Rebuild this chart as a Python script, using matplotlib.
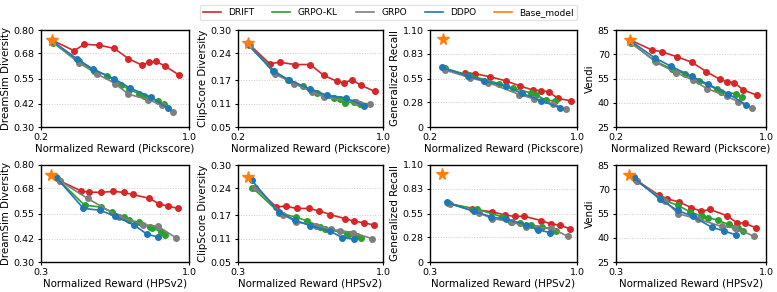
import numpy as np
import matplotlib
matplotlib.use("Agg")
from matplotlib import pyplot as plt
from matplotlib.lines import Line2D

methods = ["DRIFT", "GRPO-KL", "GRPO", "DDPO"]
colors = {"DRIFT": "tab:red", "GRPO-KL": "tab:green", "GRPO": "tab:gray", "DDPO": "tab:blue"}

metrics = ["DreamSim Diversity", "ClipScore Diversity", "Generalized Recall", "Vendi"]
rewards = ["Pickscore", "HPSv2"]

y_ticks = {
    "DreamSim Diversity": [0.30, 0.42, 0.55, 0.68, 0.80],
    "ClipScore Diversity": [0.05, 0.11, 0.17, 0.24, 0.30],
    "Generalized Recall": [0.0, 0.28, 0.55, 0.83, 1.10],
    "Vendi": [25, 40, 55, 70, 85],
}
y_ticklabels = {
    "DreamSim Diversity": ["0.30", "0.42", "0.55", "0.68", "0.80"],
    "ClipScore Diversity": ["0.05", "0.11", "0.17", "0.24", "0.30"],
    "Generalized Recall": ["0", "0.28", "0.55", "0.83", "1.10"],
    "Vendi": ["25", "40", "55", "70", "85"],
}
x_limits = {"Pickscore": (0.2, 1.0), "HPSv2": (0.3, 1.0)}

# base model (star)
base = {
    ("Pickscore", "DreamSim Diversity"): (0.259, 0.748),
    ("Pickscore", "ClipScore Diversity"): (0.253, 0.267),
    ("Pickscore", "Generalized Recall"): (0.269, 0.994),
    ("Pickscore", "Vendi"): (0.273, 79.0),
    ("HPSv2", "DreamSim Diversity"): (0.349, 0.748),
    ("HPSv2", "ClipScore Diversity"): (0.347, 0.268),
    ("HPSv2", "Generalized Recall"): (0.359, 1.001),
    ("HPSv2", "Vendi"): (0.362, 78.8),
}

# ---- Pickscore row ----
ps_dream_x = {
    "DRIFT": [0.259, 0.379, 0.433, 0.514, 0.596, 0.672, 0.745, 0.785, 0.822, 0.871, 0.944],
    "GRPO-KL": [0.263, 0.403, 0.487, 0.559, 0.630, 0.677, 0.731, 0.756, 0.835, 0.864],
    "GRPO": [0.263, 0.404, 0.505, 0.602, 0.672, 0.781, 0.853, 0.916],
    "DDPO": [0.259, 0.397, 0.482, 0.596, 0.683, 0.792, 0.887],
}
ps_dream_y = {
    "DRIFT": [0.748, 0.693, 0.726, 0.722, 0.705, 0.653, 0.619, 0.634, 0.638, 0.614, 0.569],
    "GRPO-KL": [0.735, 0.640, 0.591, 0.564, 0.519, 0.493, 0.472, 0.460, 0.433, 0.421],
    "GRPO": [0.738, 0.631, 0.572, 0.524, 0.469, 0.441, 0.412, 0.379],
    "DDPO": [0.745, 0.650, 0.598, 0.548, 0.500, 0.455, 0.397],
}
ps_clip_x = {
    "DRIFT": [0.253, 0.375, 0.430, 0.513, 0.599, 0.673, 0.746, 0.783, 0.829, 0.880, 0.954],
    "GRPO-KL": [0.260, 0.399, 0.476, 0.559, 0.636, 0.731, 0.761, 0.788, 0.842, 0.875],
    "GRPO": [0.264, 0.406, 0.509, 0.606, 0.676, 0.853, 0.926],
    "DDPO": [0.253, 0.395, 0.480, 0.595, 0.689, 0.794, 0.897],
}
ps_clip_y = {
    "DRIFT": [0.267, 0.213, 0.217, 0.211, 0.211, 0.183, 0.168, 0.163, 0.172, 0.157, 0.142],
    "GRPO-KL": [0.261, 0.194, 0.172, 0.155, 0.138, 0.126, 0.121, 0.112, 0.114, 0.108],
    "GRPO": [0.261, 0.186, 0.162, 0.141, 0.127, 0.114, 0.109],
    "DDPO": [0.263, 0.194, 0.171, 0.149, 0.132, 0.125, 0.105],
}
ps_recall_x = {
    "DRIFT": [0.388, 0.447, 0.529, 0.611, 0.688, 0.763, 0.806, 0.848, 0.894, 0.967],
    "GRPO-KL": [0.283, 0.410, 0.575, 0.650, 0.749, 0.776, 0.831, 0.882],
    "GRPO": [0.283, 0.416, 0.517, 0.687, 0.767, 0.868, 0.940],
    "DDPO": [0.264, 0.406, 0.492, 0.611, 0.700, 0.806, 0.905],
}
ps_recall_y = {
    "DRIFT": [0.614, 0.603, 0.569, 0.524, 0.467, 0.417, 0.413, 0.398, 0.326, 0.296],
    "GRPO-KL": [0.664, 0.588, 0.493, 0.440, 0.387, 0.368, 0.303, 0.296],
    "GRPO": [0.645, 0.561, 0.504, 0.368, 0.319, 0.262, 0.201],
    "DDPO": [0.675, 0.580, 0.524, 0.463, 0.383, 0.296, 0.220],
}
ps_vendi_x = {
    "DRIFT": [0.273, 0.392, 0.445, 0.525, 0.604, 0.681, 0.752, 0.792, 0.830, 0.878, 0.950],
    "GRPO-KL": [0.281, 0.409, 0.498, 0.569, 0.640, 0.737, 0.760, 0.842, 0.870],
    "GRPO": [0.281, 0.415, 0.519, 0.613, 0.684, 0.791, 0.853, 0.924],
    "DDPO": [0.276, 0.406, 0.491, 0.603, 0.693, 0.798, 0.892],
}
ps_vendi_y = {
    "DRIFT": [79.0, 72.6, 71.6, 68.4, 65.1, 59.3, 54.6, 53.1, 52.5, 48.0, 44.7],
    "GRPO-KL": [76.8, 65.8, 60.8, 57.7, 53.6, 48.4, 46.7, 45.5, 43.6],
    "GRPO": [77.2, 64.9, 58.7, 53.9, 48.8, 44.0, 40.5, 37.0],
    "DDPO": [78.4, 67.8, 62.7, 56.4, 51.3, 45.5, 38.9],
}

# ---- HPSv2 row ----
hp_dream_x = {
    "DRIFT": [0.388, 0.490, 0.529, 0.583, 0.642, 0.691, 0.733, 0.813, 0.857, 0.900, 0.950],
    "GRPO-KL": [0.375, 0.506, 0.583, 0.634, 0.694, 0.718, 0.765, 0.815, 0.827, 0.868, 0.887],
    "GRPO": [0.388, 0.520, 0.670, 0.783, 0.854, 0.940],
    "DDPO": [0.372, 0.501, 0.579, 0.650, 0.741, 0.799, 0.854],
}
hp_dream_y = {
    "DRIFT": [0.719, 0.666, 0.660, 0.659, 0.664, 0.659, 0.648, 0.628, 0.600, 0.588, 0.576],
    "GRPO-KL": [0.731, 0.593, 0.583, 0.559, 0.531, 0.516, 0.504, 0.481, 0.476, 0.455, 0.441],
    "GRPO": [0.719, 0.628, 0.533, 0.493, 0.483, 0.424],
    "DDPO": [0.736, 0.576, 0.567, 0.536, 0.490, 0.445, 0.428],
}
hp_clip_x = {
    "DRIFT": [0.384, 0.485, 0.530, 0.583, 0.641, 0.691, 0.746, 0.815, 0.862, 0.910, 0.958],
    "GRPO-KL": [0.369, 0.500, 0.582, 0.633, 0.698, 0.718, 0.826, 0.837, 0.874, 0.894],
    "GRPO": [0.384, 0.517, 0.582, 0.675, 0.749, 0.791, 0.855, 0.947],
    "DDPO": [0.366, 0.496, 0.577, 0.646, 0.746, 0.804, 0.858],
}
hp_clip_y = {
    "DRIFT": [0.242, 0.192, 0.194, 0.188, 0.188, 0.182, 0.172, 0.162, 0.155, 0.151, 0.145],
    "GRPO-KL": [0.242, 0.177, 0.165, 0.156, 0.141, 0.136, 0.123, 0.121, 0.116, 0.113],
    "GRPO": [0.242, 0.172, 0.153, 0.144, 0.134, 0.131, 0.126, 0.110],
    "DDPO": [0.261, 0.179, 0.158, 0.144, 0.129, 0.113, 0.109],
}
hp_recall_x = {
    "DRIFT": [0.500, 0.596, 0.655, 0.703, 0.747, 0.830, 0.875, 0.919, 0.968],
    "GRPO-KL": [0.388, 0.524, 0.644, 0.688, 0.728, 0.783, 0.835, 0.902],
    "GRPO": [0.396, 0.532, 0.596, 0.692, 0.756, 0.811, 0.875, 0.955],
    "DDPO": [0.380, 0.508, 0.591, 0.660, 0.759, 0.815, 0.871],
}
hp_recall_y = {
    "DRIFT": [0.599, 0.569, 0.535, 0.516, 0.520, 0.470, 0.432, 0.417, 0.376],
    "GRPO-KL": [0.665, 0.599, 0.512, 0.448, 0.440, 0.417, 0.398, 0.353],
    "GRPO": [0.660, 0.558, 0.493, 0.455, 0.398, 0.387, 0.387, 0.292],
    "DDPO": [0.675, 0.577, 0.512, 0.486, 0.425, 0.364, 0.334],
}
hp_vendi_x = {
    "DRIFT": [0.398, 0.499, 0.537, 0.592, 0.651, 0.697, 0.739, 0.818, 0.863, 0.902, 0.953],
    "GRPO-KL": [0.387, 0.514, 0.589, 0.646, 0.700, 0.728, 0.775, 0.825, 0.871, 0.891],
    "GRPO": [0.398, 0.530, 0.589, 0.682, 0.794, 0.856, 0.944],
    "DDPO": [0.382, 0.506, 0.587, 0.657, 0.747, 0.804, 0.860],
}
hp_vendi_y = {
    "DRIFT": [75.3, 66.4, 64.1, 62.2, 58.7, 56.4, 57.5, 53.6, 49.4, 49.0, 46.1],
    "GRPO-KL": [76.1, 63.7, 60.0, 56.0, 53.3, 52.5, 50.9, 48.2, 46.3, 44.2],
    "GRPO": [75.3, 62.7, 55.0, 51.5, 47.0, 46.1, 40.9],
    "DDPO": [77.3, 63.7, 56.9, 53.3, 46.5, 44.2, 41.8],
}

data = {
    ("Pickscore", "DreamSim Diversity"): (ps_dream_x, ps_dream_y),
    ("Pickscore", "ClipScore Diversity"): (ps_clip_x, ps_clip_y),
    ("Pickscore", "Generalized Recall"): (ps_recall_x, ps_recall_y),
    ("Pickscore", "Vendi"): (ps_vendi_x, ps_vendi_y),
    ("HPSv2", "DreamSim Diversity"): (hp_dream_x, hp_dream_y),
    ("HPSv2", "ClipScore Diversity"): (hp_clip_x, hp_clip_y),
    ("HPSv2", "Generalized Recall"): (hp_recall_x, hp_recall_y),
    ("HPSv2", "Vendi"): (hp_vendi_x, hp_vendi_y),
}

fig = plt.figure(figsize=(7.77, 2.92), dpi=100)

# axes boxes in pixels (left, right) per column and (top, bottom) per row
cols = [(41, 189), (238, 383), (430, 577), (616, 766)]
rows = [(30, 127), (165, 262)]
W, H = 777, 292

for r, reward in enumerate(rewards):
    top, bot = rows[r]
    for c, metric in enumerate(metrics):
        left, right = cols[c]
        ax = fig.add_axes([left / W, 1 - bot / H, (right - left) / W, (bot - top) / H])
        xs, ys = data[(reward, metric)]
        for m in methods:
            ax.plot(xs[m], ys[m], "-o", color=colors[m], lw=1.2, ms=4.0, zorder=3)
        bx, by = base[(reward, metric)]
        ax.plot(bx, by, "*", color="tab:orange", ms=8.5, zorder=5)

        x0, x1 = x_limits[reward]
        ax.set_xlim(x0, x1)
        ax.set_xticks([x0, x1])
        ax.set_xticklabels([f"{x0:.1f}", f"{x1:.1f}"])
        yt = y_ticks[metric]
        ax.set_ylim(yt[0], yt[-1])
        ax.set_yticks(yt)
        ax.set_yticklabels(y_ticklabels[metric])
        ax.tick_params(labelsize=6.8, length=2.5, pad=2)
        ax.grid(axis="y", linestyle=":", color="#cccccc", lw=0.7, zorder=0)
        for s in ax.spines.values():
            s.set_linewidth(1.0)
        ax.set_xlabel(f"Normalized Reward ({reward})", fontsize=7.4, labelpad=1)
        ax.set_ylabel(metric, fontsize=7.4, labelpad=2)

handles = [Line2D([], [], color=colors[m], lw=1.2) for m in methods]
handles.append(Line2D([], [], color="tab:orange", lw=1.2))
fig.legend(handles, methods + ["Base_model"], loc="upper center", bbox_to_anchor=(0.5, 1.0),
           ncol=5, fontsize=6.5, frameon=True, handlelength=2.0, columnspacing=2.0,
           borderpad=0.35, edgecolor="#dddddd", fancybox=True)

fig.savefig("out.png", dpi=100)
